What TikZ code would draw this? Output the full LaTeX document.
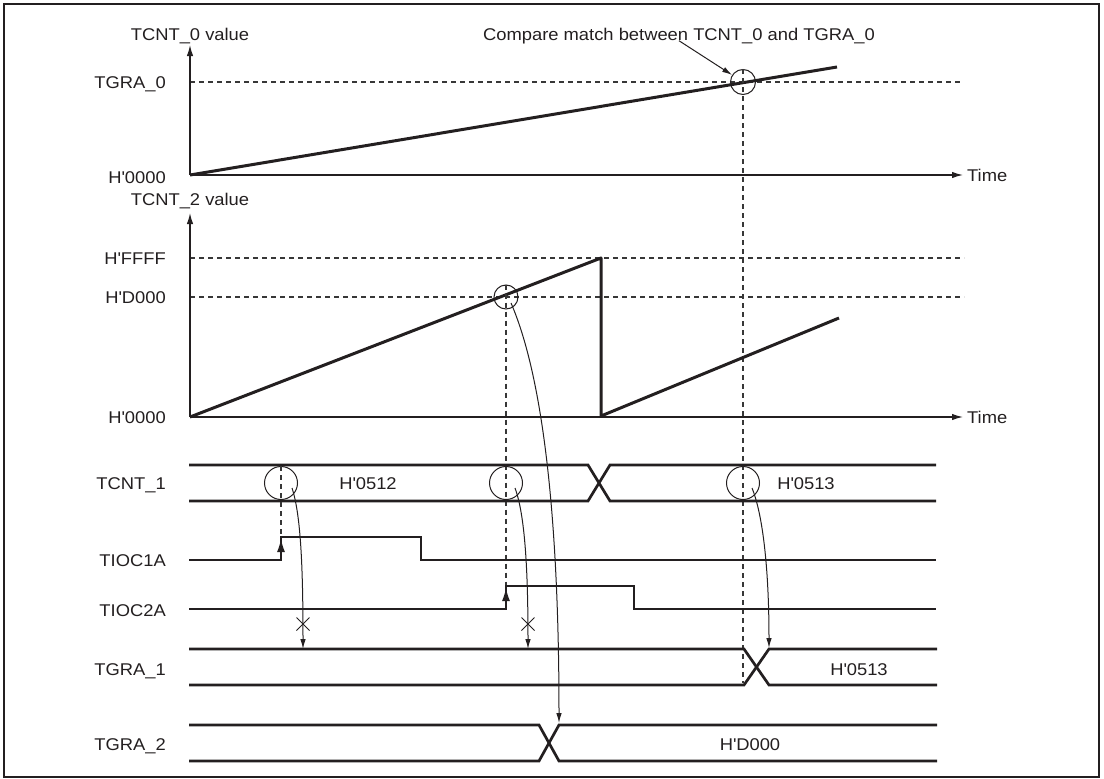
\documentclass[tikz,border=0pt]{standalone}
\usepackage{fontspec}
\setmainfont{Liberation Sans}[FakeStretch=1.08]
\usetikzlibrary{arrows.meta,shapes.misc}
\newcommand{\hexv}[1]{H\textquotesingle#1}
\definecolor{ink}{RGB}{35,31,32}
\definecolor{dashc}{RGB}{55,55,55}
\begin{document}
\begin{tikzpicture}[x=1pt,y=-1pt,
  every node/.style={font=\fontsize{17}{20}\selectfont, text=ink, inner sep=0pt},
  frame/.style={draw=ink, line width=2.4pt},
  axisline/.style={draw=ink, line width=1.4pt, -{Latex[length=11pt,width=6.5pt]}},
  guide/.style={draw=dashc, line width=1.2pt, dash pattern=on 5pt off 4pt},
  ramp/.style={draw=ink, line width=3pt, line join=round},
  sig/.style={draw=ink, line width=2.7pt},
  ring/.style={draw=ink, line width=1pt, circle, minimum size=#1, inner sep=0pt},
  link/.style={draw=ink, line width=1pt, -{Latex[length=10pt,width=5.5pt]}},
  edgetip/.style={draw=ink, line width=1.2pt, -{Latex[length=13pt,width=8pt]}},
  nope/.style={draw=ink, cross out, line width=1pt, minimum size=12pt, inner sep=0pt},
  lbl/.style={anchor=base east},
]
\useasboundingbox (0,0) rectangle (1104,779);
\draw[frame] (4,4) rectangle (1099,777);

% ---------- top graph ----------
\node[anchor=base] (v0) at (190,40) {TCNT\_0 value};
\node[lbl] (lg0) at (166,88) {TGRA\_0};
\node[lbl] (lz0) at (166,183) {\hexv{0000}};
\node[anchor=base west] (tm0) at (967,181) {Time};
\node[anchor=base] (cmp) at (679,40) {Compare match between TCNT\_0 and TGRA\_0};
\coordinate (o0) at (190,175);
\coordinate (y0) at (190,45);
\coordinate (x0) at (963,175);
\coordinate (g0a) at (190,82);
\coordinate (g0b) at (962,82);
\coordinate (r0e) at (837,67);
\draw[guide] (g0a) -- (g0b);
\draw[axisline] (o0) -- (y0);
\draw[axisline] (o0) -- (x0);
\draw[ramp] (o0) -- (r0e);
\node[ring=25pt] (c0) at (743,82) {};
\coordinate (v0b) at (743,683);
\draw[guide] (c0.north) -- (v0b);
\draw[link] ([yshift=3pt]cmp.south) -- (c0);

% ---------- middle graph ----------
\node[anchor=base] (v2) at (190,205) {TCNT\_2 value};
\node[lbl] (lf) at (166,264) {\hexv{FFFF}};
\node[lbl] (ld) at (166,303) {\hexv{D000}};
\node[lbl] (lz2) at (166,423) {\hexv{0000}};
\node[anchor=base west] (tm2) at (967,423) {Time};
\coordinate (o2) at (190,417);
\coordinate (y2) at (190,213);
\coordinate (x2) at (963,417);
\coordinate (gfa) at (190,258);
\coordinate (gfb) at (964,258);
\coordinate (gda) at (190,297);
\coordinate (gdb) at (964,297);
\coordinate (pk) at (601,258);
\coordinate (rs) at (601,416);
\coordinate (r2e) at (839,318);
\draw[guide] (gfa) -- (gfb);
\draw[guide] (gda) -- (gdb);
\draw[axisline] (o2) -- (y2);
\draw[axisline] (o2) -- (x2);
\draw[ramp] (o2) -- (pk) -- (rs) -- (r2e);
\node[ring=24pt] (c2) at (506,297) {};
\coordinate (v2b) at (506,586);
\draw[guide] (c2.north) -- (v2b);

% ---------- timing signals ----------
\node[lbl] (s1) at (166,489) {TCNT\_1};
\node[lbl] (s2) at (166,566) {TIOC1A};
\node[lbl] (s3) at (166,616) {TIOC2A};
\node[lbl] (s4) at (166,675) {TGRA\_1};
\node[lbl] (s5) at (166,750) {TGRA\_2};

% TCNT_1
\draw[sig] (189,465) -- (588,465) -- (610,501) -- (936,501);
\draw[sig] (189,501) -- (588,501) -- (610,465) -- (936,465);
\node[anchor=base] (d1) at (368,489) {\hexv{0512}};
\node[anchor=base] (d2) at (806,489) {\hexv{0513}};
\node[ring=33pt] (c1) at (281,483) {};
\node[ring=33pt] (c3) at (506,483) {};
\node[ring=33pt] (c4) at (743,483) {};
\coordinate (v1b) at (281,537);
\draw[guide] (c1.north) -- (v1b);

% TIOC1A
\draw[sig] (189,560) -- (281,560) -- (281,537) -- (421,537) -- (421,560) -- (936,560);
\coordinate (e1a) at (281,560);
\coordinate (e1b) at (281,539);
\draw[edgetip] (e1a) -- (e1b);

% TIOC2A
\draw[sig] (189,609) -- (506,609) -- (506,586) -- (634,586) -- (634,609) -- (936,609);
\coordinate (e2a) at (506,609);
\coordinate (e2b) at (506,588);
\draw[edgetip] (e2a) -- (e2b);

% TGRA_1
\draw[sig] (189,649) -- (744,649) -- (769,685) -- (937,685);
\draw[sig] (189,685) -- (744,685) -- (769,649) -- (937,649);
\node[anchor=base] (d3) at (859,675) {\hexv{0513}};

% TGRA_2
\draw[sig] (189,725) -- (539,725) -- (559,761) -- (937,761);
\draw[sig] (189,761) -- (539,761) -- (559,725) -- (937,725);
\node[anchor=base] (d4) at (750,750) {\hexv{D000}};

% ---------- curved arrows ----------
\coordinate (a1s) at (292,488);
\coordinate (a1e) at (303,649);
\draw[link] (a1s) .. controls (301,515) and (303,570) .. (a1e);
\node[nope] (x1) at (303,624) {};

\coordinate (a2s) at (515,488);
\coordinate (a2e) at (528,649);
\draw[link] (a2s) .. controls (525,515) and (528,570) .. (a2e);
\node[nope] (x2) at (528,624) {};

\coordinate (a3s) at (511,303);
\coordinate (a3e) at (559,723);
\draw[link] (a3s) .. controls (540,370) and (559,500) .. (a3e);

\coordinate (a4s) at (752,488);
\coordinate (a4e) at (769,648);
\draw[link] (a4s) .. controls (763,515) and (769,570) .. (a4e);
\end{tikzpicture}
\end{document}
